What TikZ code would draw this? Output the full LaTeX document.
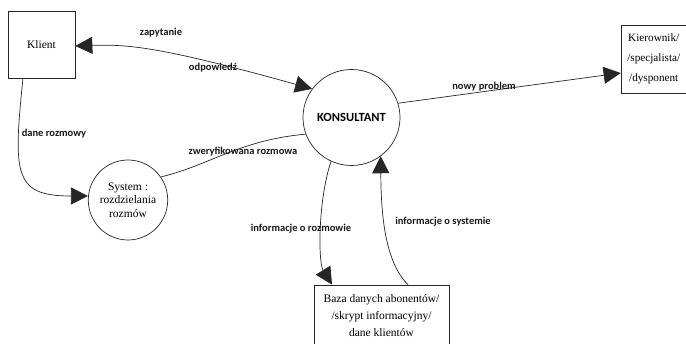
\documentclass[tikz,border=0pt]{standalone}
\usepackage{fontspec}
\setmainfont{Liberation Serif}
\newfontfamily\lblfont{Carlito}
\usetikzlibrary{arrows.meta,shapes.geometric}
\begin{document}
\begin{tikzpicture}[x=1pt,y=-1pt,
  line/.style={draw=black!85, line width=0.7pt},
  tip/.style={-{Triangle[length=17pt,width=17pt]}},
  lbl/.style={font=\lblfont\bfseries\fontsize{10.5}{12}\selectfont, inner sep=0pt, text=black!90},
  ent/.style={draw=black!85, line width=0.7pt, rectangle, inner sep=0pt, align=center, font=\fontsize{11.5}{17}\selectfont},
  proc/.style={draw=black!85, line width=0.7pt, ellipse, inner sep=0pt, align=center}]
\clip (0,0) rectangle (686,344);
\fill[white] (0,0) rectangle (686,344);

\node[ent, minimum width=67pt, minimum height=67pt] (klient) at (41.5,44.5) {Klient};
\node[ent, minimum width=65.5pt, minimum height=68pt, font=\fontsize{11.2}{20}\selectfont] (kier) at (653.75,59) {Kierownik/\\/specjalista/\\/dysponent};
\node[ent, minimum width=135pt, minimum height=61pt] (baza) at (381.5,315.5) {Baza danych abonentów/\\/skrypt informacyjny/\\dane klientów};
\node[proc, minimum width=97pt, minimum height=96pt, font=\lblfont\bfseries\fontsize{12.5}{14}\selectfont] (kons) at (351.5,117.5) {KONSULTANT};
\node[proc, minimum width=76pt, minimum height=80pt, font=\fontsize{11.5}{13.5}\selectfont] (sys) at (128,200) {System :\\rozdzielania\\rozmów};

% Klient <-> KONSULTANT
\draw[line, {Triangle[length=17pt,width=17pt]}-{Triangle[length=17pt,width=17pt]}]
  (klient.east |- 0,46) .. controls (130,44) and (165,48) .. (kons.144);
% Klient -> System
\draw[line, tip] (23,78) .. controls (13,175) and (14,196) .. (sys.west |- 0,196);
% System -- KONSULTANT
\draw[line] (sys.35) .. controls (210,165) and (240,140) .. (kons.200);
% KONSULTANT -> Kierownik
\draw[line, tip] (kons.17) -- (kier.west |- 0,73);
% KONSULTANT -> Baza
\draw[line, tip] (kons.-115) .. controls (318,200) and (318,262) .. (baza.north -| 332,0);
% Baza -> KONSULTANT
\draw[line, tip] (baza.north -| 408,0) .. controls (385,262) and (381,215) .. (kons.-53);

\node[lbl] (l1) at (161,33) {zapytanie};
\node[lbl] (l2) at (213,68) {odpowiedź};
\node[lbl] (l3) at (54,134) {dane rozmowy};
\node[lbl] (l4) at (243,152) {zweryfikowana rozmowa};
\node[lbl] (l5) at (484,87) {nowy problem};
\node[lbl] (l6) at (301,229) {informacje o rozmowie};
\node[lbl] (l7) at (443,222) {informacje o systemie};
\end{tikzpicture}
\end{document}
